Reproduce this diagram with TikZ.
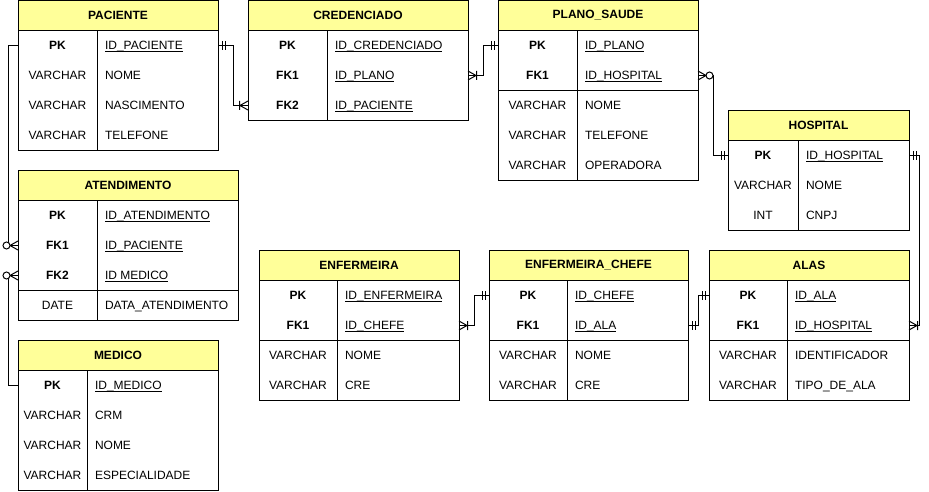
\documentclass[tikz,border=0pt]{standalone}
\usepackage{fontspec}
\setmainfont{Liberation Sans}
\definecolor{hdrfill}{HTML}{FFFF99}
\tikzset{
  every node/.style={font=\fontsize{12}{14}\selectfont, inner sep=0pt, outer sep=0pt},
  hdr/.style={draw, fill=hdrfill, minimum height=30pt, line width=1pt,
    font=\fontsize{12}{14}\selectfont\bfseries},
  rowbox/.style={minimum height=30pt},
  conn/.style={line width=1pt, black},
  tline/.style={line width=1pt, black}
}
% title: name, x, ytop, width, text
\newcommand\ertitle[5]{\node[hdr, minimum width=#4pt, anchor=north west] (#1) at (#2,#3) {#5};}
% row: name, x, ytop, width, divider, left, right
\newcommand\errow[7]{%
  \node[rowbox, minimum width=#4pt, anchor=north west] (#1) at (#2,#3) {};
  \node[anchor=base] at (#2+#5/2,#3+19.3) {#6};
  \node[anchor=base west] at (#2+#5+8,#3+19.3) {#7};}
% outline: x, ytop, width, divider, ybottom
\newcommand\erframe[5]{%
  \draw[tline] (#1,#2+30) rectangle (#1+#3,#5);
  \draw[tline] (#1+#4,#2+30) -- (#1+#4,#5);}
\newcommand\ersep[3]{\draw[tline] (#1,#3) -- (#1+#2,#3);}
% markers: point, direction sign
\newcommand\mOne[2]{\draw[conn,shift={(#1)}] (#2*4,-4.5)--(#2*4,4.5) (#2*7,-4.5)--(#2*7,4.5);}
\newcommand\mOneMany[2]{\draw[conn,shift={(#1)}] (#2*8,0)--(0,-4.5) (#2*8,0)--(0,4.5) (#2*8.5,-4.5)--(#2*8.5,4.5);}
\newcommand\mZeroMany[2]{\draw[conn,shift={(#1)}] (#2*8,0)--(0,-4.5) (#2*8,0)--(0,4.5);
  \draw[conn,fill=white,shift={(#1)}] (#2*11.5,0) circle[radius=3.5pt];}
\newsavebox\kbox
\newcommand\K[1]{\sbox\kbox{#1}\rlap{\usebox\kbox}\rule[-2.6pt]{\wd\kbox}{1pt}}
\begin{document}
\begin{tikzpicture}[x=1pt,y=-1pt]
\useasboundingbox (0,0) rectangle (929,492);
\fill[white] (0,0) rectangle (929,492);

% PACIENTE
\erframe{18}{0.5}{200}{79}{150.5}
\ertitle{pac}{18}{0.5}{200}{PACIENTE}
\errow{pac-r1}{18}{30.5}{200}{79}{\bfseries PK}{\K{ID\_PACIENTE}}
\errow{pac-r2}{18}{60.5}{200}{79}{VARCHAR}{NOME}
\errow{pac-r3}{18}{90.5}{200}{79}{VARCHAR}{NASCIMENTO}
\errow{pac-r4}{18}{120.5}{200}{79}{VARCHAR}{TELEFONE}

% CREDENCIADO
\erframe{248}{0.5}{220}{79}{120.5}
\ertitle{cred}{248}{0.5}{220}{CREDENCIADO}
\errow{cred-r1}{248}{30.5}{220}{79}{\bfseries PK}{\K{ID\_CREDENCIADO}}
\errow{cred-r2}{248}{60.5}{220}{79}{\bfseries FK1}{\K{ID\_PLANO}}
\errow{cred-r3}{248}{90.5}{220}{79}{\bfseries FK2}{\K{ID\_PACIENTE}}

% PLANO_SAUDE
\erframe{498}{0.5}{200}{79}{180.5}
\ersep{498}{200}{90.5}
\ertitle{plano}{498}{0.5}{200}{PLANO\_SAUDE}
\errow{plano-r1}{498}{30.5}{200}{79}{\bfseries PK}{\K{ID\_PLANO}}
\errow{plano-r2}{498}{60.5}{200}{79}{\bfseries FK1}{\K{ID\_HOSPITAL}}
\errow{plano-r3}{498}{90.5}{200}{79}{VARCHAR}{NOME}
\errow{plano-r4}{498}{120.5}{200}{79}{VARCHAR}{TELEFONE}
\errow{plano-r5}{498}{150.5}{200}{79}{VARCHAR}{OPERADORA}

% HOSPITAL
\erframe{728}{110.5}{181}{70}{230.5}
\ertitle{hosp}{728}{110.5}{181}{HOSPITAL}
\errow{hosp-r1}{728}{140.5}{181}{70}{\bfseries PK}{\K{ID\_HOSPITAL}}
\errow{hosp-r2}{728}{170.5}{181}{70}{VARCHAR}{NOME}
\errow{hosp-r3}{728}{200.5}{181}{70}{INT}{CNPJ}

% ATENDIMENTO
\erframe{18}{170.5}{220}{79}{320.5}
\ersep{18}{220}{290.5}
\ertitle{aten}{18}{170.5}{220}{ATENDIMENTO}
\errow{aten-r1}{18}{200.5}{220}{79}{\bfseries PK}{\K{ID\_ATENDIMENTO}}
\errow{aten-r2}{18}{230.5}{220}{79}{\bfseries FK1}{\K{ID\_PACIENTE}}
\errow{aten-r3}{18}{260.5}{220}{79}{\bfseries FK2}{\K{ID MEDICO}}
\errow{aten-r4}{18}{290.5}{220}{79}{DATE}{DATA\_ATENDIMENTO}

% MEDICO
\erframe{18}{340.5}{200}{69}{490.5}
\ertitle{med}{18}{340.5}{200}{MEDICO}
\errow{med-r1}{18}{370.5}{200}{69}{\bfseries PK}{\K{ID\_MEDICO}}
\errow{med-r2}{18}{400.5}{200}{69}{VARCHAR}{CRM}
\errow{med-r3}{18}{430.5}{200}{69}{VARCHAR}{NOME}
\errow{med-r4}{18}{460.5}{200}{69}{VARCHAR}{ESPECIALIDADE}

% ENFERMEIRA
\erframe{259}{250.5}{200}{78}{400.5}
\ersep{259}{200}{340.5}
\ertitle{enf}{259}{250.5}{200}{ENFERMEIRA}
\errow{enf-r1}{259}{280.5}{200}{78}{\bfseries PK}{\K{ID\_ENFERMEIRA}}
\errow{enf-r2}{259}{310.5}{200}{78}{\bfseries FK1}{\K{ID\_CHEFE}}
\errow{enf-r3}{259}{340.5}{200}{78}{VARCHAR}{NOME}
\errow{enf-r4}{259}{370.5}{200}{78}{VARCHAR}{CRE}

% ENFERMEIRA_CHEFE
\erframe{489}{250.5}{199}{78}{400.5}
\ersep{489}{199}{340.5}
\ertitle{chefe}{489}{250.5}{199}{ENFERMEIRA\_CHEFE}
\errow{chefe-r1}{489}{280.5}{199}{78}{\bfseries PK}{\K{ID\_CHEFE}}
\errow{chefe-r2}{489}{310.5}{199}{78}{\bfseries FK1}{\K{ID\_ALA}}
\errow{chefe-r3}{489}{340.5}{199}{78}{VARCHAR}{NOME}
\errow{chefe-r4}{489}{370.5}{199}{78}{VARCHAR}{CRE}

% ALAS
\erframe{709}{250.5}{200}{78}{400.5}
\ersep{709}{200}{340.5}
\ertitle{alas}{709}{250.5}{200}{ALAS}
\errow{alas-r1}{709}{280.5}{200}{78}{\bfseries PK}{\K{ID\_ALA}}
\errow{alas-r2}{709}{310.5}{200}{78}{\bfseries FK1}{\K{ID\_HOSPITAL}}
\errow{alas-r3}{709}{340.5}{200}{78}{VARCHAR}{IDENTIFICADOR}
\errow{alas-r4}{709}{370.5}{200}{78}{VARCHAR}{TIPO\_DE\_ALA}

% connectors
\draw[conn] (pac-r1.east) -- ++(15,0) |- (cred-r3.west);
\mOne{pac-r1.east}{1}
\mOneMany{cred-r3.west}{-1}

\draw[conn] (cred-r2.east) -- ++(15,0) |- (plano-r1.west);
\mOneMany{cred-r2.east}{1}
\mOne{plano-r1.west}{-1}

\draw[conn] (plano-r2.east) -- ++(15,0) |- (hosp-r1.west);
\mZeroMany{plano-r2.east}{1}
\mOne{hosp-r1.west}{-1}

\draw[conn] (hosp-r1.east) -- ++(10,0) |- (alas-r2.east);
\mOne{hosp-r1.east}{1}
\mOneMany{alas-r2.east}{1}

\draw[conn] (pac-r1.west) -- ++(-10,0) |- (aten-r2.west);
\mZeroMany{aten-r2.west}{-1}

\draw[conn] (med-r1.west) -- ++(-10,0) |- (aten-r3.west);
\mZeroMany{aten-r3.west}{-1}

\draw[conn] (enf-r2.east) -- ++(15,0) |- (chefe-r1.west);
\mOneMany{enf-r2.east}{1}
\mOne{chefe-r1.west}{-1}

\draw[conn] (chefe-r2.east) -- ++(10,0) |- (alas-r1.west);
\mOne{chefe-r2.east}{1}
\mOne{alas-r1.west}{-1}
\end{tikzpicture}
\end{document}
